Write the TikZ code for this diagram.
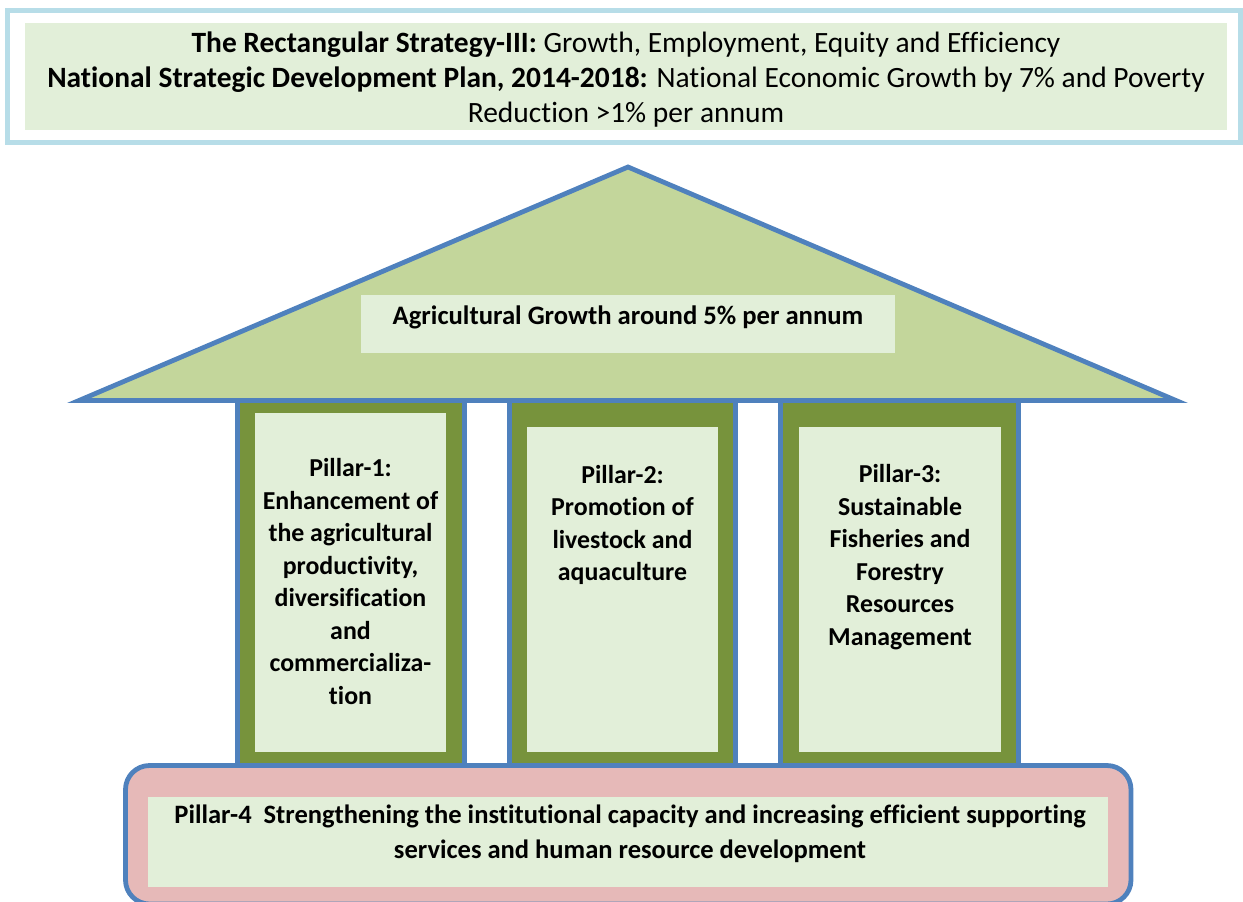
\documentclass[tikz,border=0pt]{standalone}
\usepackage{fontspec}
\setmainfont{Carlito}[Ligatures=NoCommon]
\definecolor{edgeblue}{HTML}{4F81BD}
\definecolor{aqualine}{HTML}{B7DDE8}
\definecolor{palegreen}{HTML}{E2EFD9}
\definecolor{roofgreen}{HTML}{C3D69B}
\definecolor{olive}{HTML}{77933C}
\definecolor{rosefill}{HTML}{E6B9B8}

\begin{document}
\begin{tikzpicture}[x=0.75pt,y=-0.75pt,
    outline/.style={draw=edgeblue,line width=3.6pt},
    pillar/.style={outline,fill=olive},
    inner/.style={fill=palegreen},
    txt/.style={align=center,inner sep=0pt,font=\fontsize{19.4}{24.4}\selectfont\bfseries}]
  \useasboundingbox (0,0) rectangle (1243,901);
  \clip (0,0) rectangle (1243,901);
  % heading
  \draw[draw=aqualine,line width=3.6pt] (7.5,10.5) rectangle (1240.5,142.5);
  \fill[inner] (25,23) rectangle (1227,130);
  \node[txt,font=\fontsize{22.1}{26.6}\selectfont] (strategy) at (626,79.5)
    {\textbf{The Rectangular Strategy-III:} Growth, Employment, Equity and Efficiency\\
     \textbf{National Strategic Development Plan, 2014-2018:} National Economic Growth by 7\% and Poverty\\
     Reduction >1\% per annum};
  % roof
  \draw[outline,fill=roofgreen] (79,400.5) -- (628,167) -- (1176,400.5) -- cycle;
  \fill[inner] (361,295) rectangle (895,353);
  \node[txt,font=\fontsize{20}{24}\selectfont\bfseries] (growth) at (628,317) {Agricultural Growth around 5\% per annum};
  % pillars
  \draw[pillar] (237.5,400.5) rectangle (464.5,765.5);
  \draw[pillar] (509.5,400.5) rectangle (735.5,765.5);
  \draw[pillar] (780.5,400.5) rectangle (1018.5,765.5);
  \fill[inner] (255,413) rectangle (446,752);
  \fill[inner] (527,427) rectangle (718,752);
  \fill[inner] (799,427) rectangle (1001,752);
  \node[txt] (pillarone) at (350.5,581.5)
    {Pillar-1:\\Enhancement of\\the agricultural\\productivity,\\diversification\\and\\commercializa-\\tion};
  \node[txt] (pillartwo) at (622.5,525)
    {Pillar-2:\\Promotion of\\livestock and\\aquaculture};
  \node[txt] (pillarthree) at (900,557)
    {Pillar-3:\\Sustainable\\Fisheries and\\Forestry\\Resources\\Management};
  % foundation
  \draw[outline,fill=rosefill,rounded corners=18pt] (125.5,765.5) rectangle (1131,904);
  \fill[inner] (148,797) rectangle (1108,887);
  \node[txt,font=\fontsize{19.9}{26.2}\selectfont\bfseries] (pillarfour) at (630,833.5)
    {Pillar-4\ \ Strengthening the institutional capacity and increasing efficient supporting\\
     services and human resource development};
\end{tikzpicture}
\end{document}
